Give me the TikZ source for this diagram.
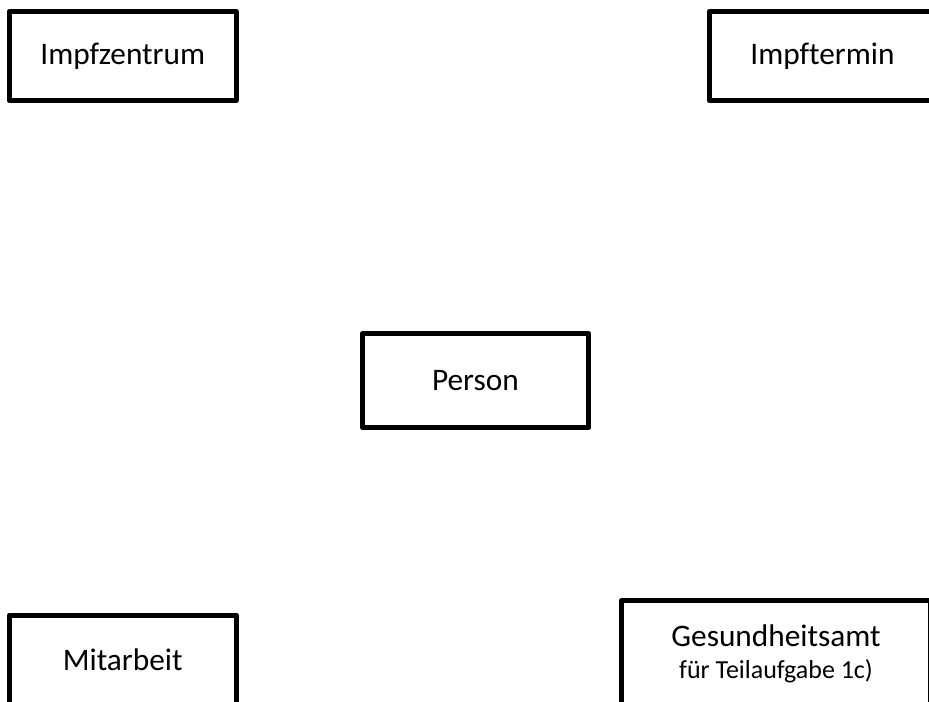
\documentclass[tikz,border=0pt]{standalone}
\usepackage{fontspec}
\setmainfont[Ligatures=NoCommon]{Carlito}
\usetikzlibrary{positioning}
\newcommand{\subnotefont}{\fontsize{19.5}{22}\selectfont}
\tikzset{
  entity/.style={rectangle,draw=black,line width=3.75pt,line join=round,
    minimum width=170pt,minimum height=66.75pt,inner sep=0pt,align=center,
    font=\fontsize{23.5}{26}\selectfont}
}
\begin{document}
\begin{tikzpicture}[x=0.75pt,y=-0.75pt]
  \useasboundingbox (0,0) rectangle (929,702);
  \clip (0,0) rectangle (929,702);
  % entities
  \node[entity] (impfzentrum) at (122.75,56) {Impfzentrum};
  \node[entity] (impftermin) at (822.5,56) {Impftermin};
  \node[entity,minimum height=70pt] (person) at (475.4,380.5) {Person};
  \node[entity] (mitarbeit) at (122.75,659.5) {Mitarbeit};
  \node[entity,minimum width=232pt,minimum height=79pt] (gesundheitsamt) at (776,653.5)
    {Gesundheitsamt\\[-2pt]{\subnotefont für Teilaufgabe 1c)}};
\end{tikzpicture}
\end{document}
